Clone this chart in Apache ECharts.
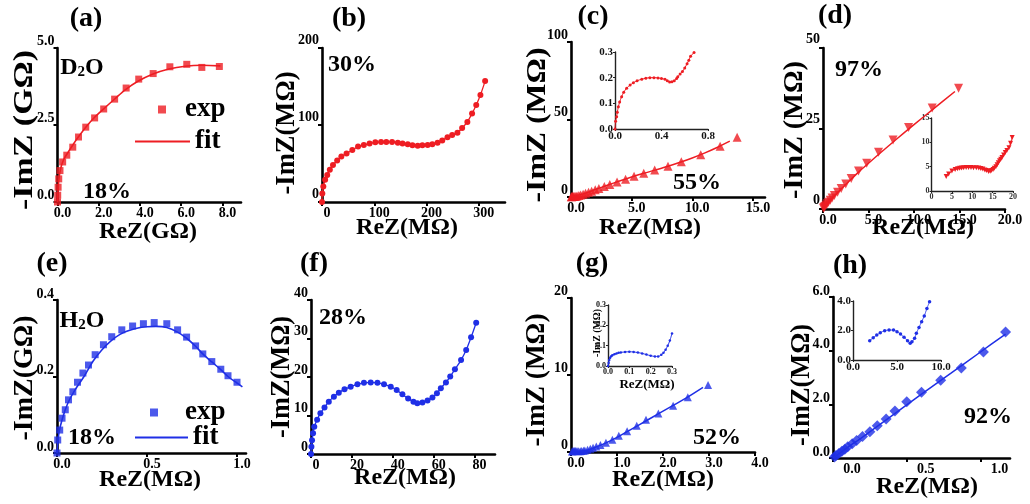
<!DOCTYPE html>
<html>
<head>
<meta charset="utf-8">
<script src="https://cdn.jsdelivr.net/npm/echarts@6/dist/echarts.min.js"></script>
<style>
  html, body { margin: 0; padding: 0; background: #fff; }
  #chart { width: 1030px; height: 504px; }
</style>
</head>
<body>
<div id="chart"></div>
<script>
// ---- Nyquist data (ReZ, -ImZ) ----
// (a) D2O 18%  [GΩ]
const aExp = [[0,0],[0.01,0.22],[0.03,0.48],[0.06,0.75],[0.12,1.02],[0.25,1.30],[0.45,1.52],[0.74,1.78],[1.02,2.11],[1.37,2.43],[1.80,2.73],[2.24,3.02],[2.77,3.34],[3.33,3.70],[3.94,3.99],[4.64,4.17],[5.45,4.39],[6.27,4.47],[7.0,4.37],[7.85,4.40]];
const aFit = [[0,0],[0.02,0.3],[0.06,0.7],[0.15,1.08],[0.3,1.38],[0.5,1.6],[0.75,1.86],[1.0,2.1],[1.4,2.45],[1.8,2.75],[2.3,3.06],[2.8,3.36],[3.3,3.65],[3.9,3.92],[4.6,4.15],[5.4,4.32],[6.2,4.41],[7.0,4.44],[7.9,4.42]];
// (b) D2O 30%  [MΩ]
const bExp = [[0,0],[0.6,11],[2.5,20],[6,29],[10,35],[15,42],[21,48],[29,54],[37,59],[47,63],[58,67.5],[69,72],[80,74],[91,76],[102,77.5],[113,78],[123,78],[134,78],[145,77],[154,76],[164,75],[173,73.6],[183,73],[192,73.6],[202,74],[211,75],[221,77],[230,80],[240,84],[249,87],[259,90],[268,96],[278,104],[287,115],[295,126],[303,139],[312,157]];
// (c) D2O 55%  [MΩ]
const cExp = [[0.02,0.1],[0.06,0.2],[0.1,0.25],[0.15,0.3],[0.2,0.3],[0.3,0.35],[0.4,0.45],[0.5,0.6],[0.65,0.9],[0.8,1.3],[1.0,1.8],[1.2,2.4],[1.45,3.0],[1.7,3.7],[2.0,4.6],[2.3,5.5],[2.75,6.7],[3.2,8.0],[3.8,9.7],[4.5,11.5],[5.2,13.4],[6.0,15.4],[6.9,17.4],[8.0,19.8],[9.1,22.8],[10.7,27.3],[12.3,32.8],[13.7,38.5]];
const cFit = [[0,0],[1,2],[2,4.8],[3,7.6],[4,10.3],[5,12.9],[6,15.3],[7,17.5],[8,19.8],[9,22.4],[10,25.2],[11,28.3],[12,31.8],[13.1,36]];
const cInset = [[0,0],[0.005,0.03],[0.014,0.048],[0.02,0.065],[0.029,0.087],[0.04,0.105],[0.057,0.126],[0.075,0.143],[0.1,0.159],[0.13,0.171],[0.158,0.18],[0.19,0.188],[0.23,0.194],[0.265,0.198],[0.3,0.2],[0.335,0.2],[0.37,0.199],[0.4,0.197],[0.43,0.194],[0.45,0.188],[0.47,0.183],[0.49,0.184],[0.51,0.188],[0.53,0.197],[0.54,0.204],[0.56,0.214],[0.58,0.224],[0.6,0.238],[0.62,0.254],[0.635,0.268],[0.65,0.283],[0.68,0.298]];
// (d) D2O 97%  [MΩ]
const dExp = [[0.05,0.2],[0.12,0.45],[0.2,0.75],[0.32,1.15],[0.45,1.6],[0.6,2.1],[0.8,2.7],[1.0,3.4],[1.25,4.2],[1.6,5.2],[2.0,6.4],[2.5,7.8],[3.1,9.5],[3.9,11.8],[4.8,14.2],[6.1,17.6],[7.7,21.4],[9.4,25.3],[12.0,31.4],[14.9,37.5]];
const dFit = [[0,0],[1,3.3],[2,6.2],[3,9],[4,11.7],[5,14.2],[6,16.7],[8,21.5],[10,26.2],[12,30.8],[14.5,36.5]];
const dInset = [[3.6,3.0],[4.2,3.5],[5.0,4.1],[5.8,4.4],[6.4,4.55],[6.9,4.65],[7.4,4.75],[7.9,4.8],[8.5,4.85],[9.1,4.85],[9.7,4.85],[10.3,4.8],[11.0,4.8],[11.6,4.75],[12.1,4.6],[12.6,4.5],[13.1,4.3],[13.5,4.2],[14.0,4.0],[14.4,4.05],[14.7,4.2],[15.1,4.4],[15.4,4.7],[15.8,5.0],[16.1,5.4],[16.4,5.8],[16.7,6.2],[17.0,6.5],[17.3,6.9],[17.7,7.4],[18.1,7.9],[18.5,8.3],[19.0,8.9],[19.4,9.8],[19.8,11.0]];
// (e) H2O 18%
const eExp = [[0,0],[0.004,0.034],[0.015,0.06],[0.028,0.091],[0.046,0.113],[0.064,0.139],[0.088,0.16],[0.114,0.185],[0.144,0.209],[0.175,0.23],[0.212,0.257],[0.258,0.283],[0.304,0.304],[0.36,0.322],[0.42,0.332],[0.48,0.338],[0.54,0.341],[0.61,0.338],[0.67,0.322],[0.72,0.303],[0.77,0.28],[0.81,0.259],[0.86,0.239],[0.91,0.219],[0.95,0.202],[1.0,0.185]];
const eFit = [[0,0],[0.01,0.05],[0.03,0.09],[0.06,0.13],[0.1,0.165],[0.15,0.2],[0.2,0.24],[0.25,0.27],[0.3,0.293],[0.35,0.31],[0.4,0.32],[0.45,0.327],[0.5,0.33],[0.55,0.331],[0.61,0.328],[0.67,0.316],[0.72,0.3],[0.77,0.279],[0.81,0.259],[0.86,0.238],[0.91,0.218],[0.95,0.2],[1.0,0.183],[1.03,0.173]];
// (f) H2O 28%
const fExp = [[0,0],[0.2,1.9],[0.5,3.6],[1.0,5.4],[1.6,7.1],[3.0,8.9],[4.6,10.6],[6.6,12.1],[8.7,13.6],[11.2,14.9],[13.6,15.9],[16.4,16.8],[19.4,17.5],[22.7,18.1],[25.9,18.5],[29.2,18.6],[32.5,18.5],[35.7,18.1],[39,17.5],[41.9,16.6],[44.7,15.5],[47.5,14.4],[50.1,13.6],[52,13.2],[54.5,13.4],[57,13.9],[59.4,14.7],[61.6,15.8],[63.5,17.1],[66,18.6],[68.1,20.1],[70.4,22],[73.4,24.4],[75.9,27],[78.3,30.3],[80.8,34.1]];
// (g) H2O 52%
const gExp = [[0.02,0.05],[0.04,0.1],[0.06,0.12],[0.08,0.12],[0.1,0.12],[0.13,0.12],[0.16,0.1],[0.2,0.1],[0.23,0.12],[0.27,0.16],[0.3,0.2],[0.36,0.3],[0.42,0.42],[0.48,0.55],[0.55,0.7],[0.64,0.9],[0.76,1.2],[0.9,1.6],[1.04,2.1],[1.22,2.7],[1.43,3.4],[1.63,4.2],[1.9,5.0],[2.22,6.0],[2.54,7.1],[2.98,8.7]];
const gFit = [[0,0],[0.3,0.15],[0.5,0.55],[0.75,1.15],[1.0,1.9],[1.25,2.75],[1.5,3.6],[1.75,4.45],[2.0,5.3],[2.25,6.15],[2.5,7.0],[2.87,8.4]];
const gInset = [[0,0],[0.003,0.015],[0.006,0.03],[0.01,0.04],[0.015,0.048],[0.02,0.053],[0.03,0.058],[0.04,0.062],[0.05,0.065],[0.06,0.067],[0.08,0.069],[0.1,0.07],[0.12,0.069],[0.14,0.066],[0.16,0.062],[0.18,0.056],[0.2,0.051],[0.22,0.047],[0.235,0.047],[0.25,0.055],[0.26,0.065],[0.27,0.08],[0.28,0.1],[0.29,0.125],[0.3,0.16]];
// (h) H2O 92%
const hExp = [[0.01,0.04],[0.02,0.09],[0.04,0.17],[0.06,0.25],[0.08,0.33],[0.1,0.42],[0.13,0.53],[0.16,0.65],[0.2,0.8],[0.25,0.98],[0.3,1.2],[0.36,1.45],[0.42,1.75],[0.5,2.1],[0.6,2.45],[0.73,2.9],[0.87,3.35],[1.02,3.95],[1.17,4.7]];
const hFit = [[0,0],[0.1,0.4],[0.2,0.78],[0.4,1.58],[0.6,2.38],[0.8,3.16],[1.0,3.95],[1.17,4.62]];
const hInset = [[1.9,1.31],[2.3,1.51],[2.7,1.69],[3.1,1.85],[3.6,1.99],[4.1,2.03],[4.6,2.03],[5.0,1.92],[5.4,1.76],[5.8,1.54],[6.2,1.31],[6.5,1.13],[6.7,1.24],[7.0,1.47],[7.2,1.81],[7.5,2.21],[7.8,2.6],[8.1,2.98],[8.4,3.5],[8.7,3.95]];

// ---- tick labels ----
const aTickX = ['0.0','2.0','4.0','6.0','8.0'], aTickY = ['0.0','2.5','5.0'];
const bTickX = ['0','100','200','300'], bTickY = ['0','100','200'];
const cTickX = ['0.0','5.0','10.0','15.0'], cTickY = ['0','50','100'];
const dTickX = ['0.0','5.0','10.0','15.0','20.0'], dTickY = ['0','25','50'];
const eTickX = ['0.0','0.5','1.0'], eTickY = ['0.0','0.2','0.4'];
const fTickX = ['0','20','40','60','80'], fTickY = ['0','10','20','30','40'];
const gTickX = ['0.0','1.0','2.0','3.0','4.0'], gTickY = ['0','10','20'];
const hTickX = ['0.0','0.5','1.0'], hTickY = ['0.0','2.0','4.0','6.0'];
const ciTickX = ['0.0','0.4','0.8'], ciTickY = ['0.0','0.1','0.2','0.3'];
const diTickX = ['0','5','10','15','20'], diTickY = ['0','5','10','15'];
const giTickX = ['0.0','0.1','0.2','0.3'], giTickY = ['0.0','0.1','0.2','0.3'];
const hiTickX = ['0.0','5.0','10.0'], hiTickY = ['0.0','2.0','4.0'];

const FONT = '"Liberation Serif", "Times New Roman", serif';
const RED = '#ee1d23', BLUE = '#1f2fe6';

const grids = [], xAxes = [], yAxes = [], series = [], graphic = [];

function tickSet(ticks) {
  const vals = ticks.map(Number);
  return { vals, fmt: v => { const k = vals.findIndex(t => Math.abs(t - v) < 1e-9); return k < 0 ? '' : ticks[k]; } };
}

// one cartesian panel: box = [left, top, width, height]
function panel(box, xr, yr, xt, yt, s) {
  const i = grids.length;
  grids.push({ left: box[0], top: box[1], width: box[2], height: box[3] });
  const X = tickSet(xt), Y = tickSet(yt);
  const common = {
    type: 'value', gridIndex: i, splitLine: { show: false },
    axisLine: { onZero: false, lineStyle: { color: s.color, width: s.lw } }
  };
  xAxes.push(Object.assign({}, common, {
    min: xr[0], max: xr[1],
    axisTick: { customValues: X.vals, length: s.tl, lineStyle: { color: s.color, width: s.tw } },
    axisLabel: { customValues: X.vals, formatter: X.fmt, fontFamily: FONT, fontWeight: 'bold',
      fontSize: s.fs, color: s.lc, margin: s.xm, padding: [0, 0, 0, 2 * s.xs] }
  }));
  const yLab = { customValues: Y.vals, formatter: Y.fmt, fontFamily: FONT, fontWeight: 'bold',
      fontSize: s.fs, color: s.lc, margin: s.ym };
  if (s.ys > 0) { yLab.verticalAlign = 'bottom'; yLab.lineHeight = 2 * s.ys; }
  yAxes.push(Object.assign({}, common, {
    min: yr[0], max: yr[1],
    axisTick: { customValues: Y.vals, length: s.tl, lineStyle: { color: s.color, width: s.tw } },
    axisLabel: yLab
  }));
  return i;
}

const MAIN = { color: '#000', lw: 2.6, tl: 4, tw: 2, fs: 14, lc: '#000', xm: 4, ym: 3, xs: 5, ys: 7 };
const INSET = { color: '#222', lw: 1.4, tl: 2, tw: 1, fs: 11, lc: '#111', xm: 2, ym: 2, xs: 0, ys: 0 };

function pts(name, gi, data, color, symbol, size, extra) {
  series.push(Object.assign({
    name, type: 'scatter', xAxisIndex: gi, yAxisIndex: gi, data, symbol, symbolSize: size,
    itemStyle: { color }, clip: false, z: 3
  }, extra || {}));
}
function curve(name, gi, data, color, width, extra) {
  series.push(Object.assign({
    name, type: 'line', xAxisIndex: gi, yAxisIndex: gi, data, symbol: 'none', smooth: 0.3,
    lineStyle: { color, width }, itemStyle: { color }, clip: false, z: 2
  }, extra || {}));
}

// (a)
const ga = panel([57.5, 48, 183.5, 154], [0, 8.9], [0, 5], aTickX, aTickY, MAIN);
pts('exp (a)', ga, aExp, RED, 'rect', 7);
curve('fit (a)', ga, aFit, RED, 1.6);
// (b)
const gb = panel([322, 48, 183, 154], [0, 350], [0, 200], bTickX, bTickY, Object.assign({}, MAIN, { ys: 8 }));
curve('b', gb, bExp, RED, 1.3, { symbol: 'circle', symbolSize: 6, showSymbol: true });
// (c)
const gc = panel([571, 42, 194, 155], [0, 16], [0, 100], cTickX, cTickY, MAIN);
pts('c', gc, cExp, RED, 'triangle', 9);
curve('c fit', gc, cFit, RED, 1.5);
const gci = panel([615, 52, 93, 77], [0, 0.8], [0, 0.3], ciTickX, ciTickY, INSET);
curve('c inset', gci, cInset, RED, 1, { symbol: 'circle', symbolSize: 3, showSymbol: true });
// (d)
const gd = panel([823, 48, 182, 161], [0, 20], [0, 50], dTickX, dTickY, Object.assign({}, MAIN, { ys: 9 }));
pts('d', gd, dExp, RED, 'triangle', 9, { symbolRotate: 180 });
curve('d fit', gd, dFit, RED, 1.5);
const gdi = panel([931.5, 118, 81.5, 73], [0, 20], [0, 15], diTickX, diTickY,
  Object.assign({}, INSET, { fs: 8, lc: '#333' }));
curve('d inset', gdi, dInset, RED, 1, { symbol: 'triangle', symbolRotate: 180, symbolSize: 5, showSymbol: true });
// (e)
const ge = panel([57, 300, 189, 153], [0, 1.05], [0, 0.4], eTickX, eTickY, Object.assign({}, MAIN, { ys: 6 }));
pts('exp (e)', ge, eExp, BLUE, 'rect', 7);
curve('fit (e)', ge, eFit, BLUE, 1.6);
// (f)
const gf = panel([311, 300, 184, 154], [0, 90], [0, 40], fTickX, fTickY, MAIN);
curve('f', gf, fExp, BLUE, 1.3, { symbol: 'circle', symbolSize: 6, showSymbol: true });
// (g)
const gg = panel([571, 298, 184, 154], [0, 4], [0, 20], gTickX, gTickY, MAIN);
pts('g', gg, gExp, BLUE, 'triangle', 8);
curve('g fit', gg, gFit, BLUE, 1.5);
const ggi = panel([608, 305, 64, 61], [0, 0.3], [0, 0.3], giTickX, giTickY,
  Object.assign({}, INSET, { fs: 8 }));
curve('g inset', ggi, gInset, BLUE, 1, { symbol: 'circle', symbolSize: 2.5, showSymbol: true });
// (h)
const gh = panel([833, 297, 177, 161], [0, 1.2], [0, 6], hTickX, hTickY,
  Object.assign({}, MAIN, { xs: 19, ys: 6 }));
pts('h', gh, hExp, BLUE, 'diamond', 11);
curve('h fit', gh, hFit, BLUE, 1.5);
const ghi = panel([853, 301, 88, 59], [0, 10], [0, 4], hiTickX, hiTickY, INSET);
curve('h inset', ghi, hInset, BLUE, 0.8, { symbol: 'circle', symbolSize: 3.5, showSymbol: true });

// ---- text ----
const measureCtx = document.createElement('canvas').getContext('2d');
function textW(t, size) { measureCtx.font = 'bold ' + size + 'px ' + FONT; return measureCtx.measureText(t).width; }
function label(t, x, y, size, extra) {
  graphic.push(Object.assign({
    type: 'text', x, y, silent: true,
    style: { text: t, x: 0, y: 0, align: 'center', verticalAlign: 'middle',
      fontFamily: FONT, fontWeight: 'bold', fontSize: size, fill: '#000' }
  }, extra || {}));
}
// vertical axis title stretched along its length
function vTitle(t, x, y, size, len) {
  label(t, x, y, size, { rotation: Math.PI / 2, scaleX: len / textW(t, size) });
}

const panelTags = [['(a)', 86, 19], ['(b)', 349, 19], ['(c)', 593, 17], ['(d)', 835, 16],
                   ['(e)', 52, 264], ['(f)', 314, 264], ['(g)', 592, 264], ['(h)', 850, 266]];
panelTags.forEach(p => label(p[0], p[1], p[2], 28));

const humid = [['18%', 107, 192], ['30%', 352, 65], ['55%', 697, 183], ['97%', 859, 70],
               ['18%', 92, 438], ['28%', 343, 318], ['52%', 717, 438], ['92%', 988, 417]];
humid.forEach(p => label(p[0], p[1], p[2], 24));

const xTitles = [['ReZ(GΩ)', 148, 232], ['ReZ(MΩ)', 407, 228], ['ReZ(MΩ)', 650, 228], ['ReZ(MΩ)', 923, 228],
                 ['ReZ(MΩ)', 150, 480], ['ReZ(MΩ)', 405, 478], ['ReZ(MΩ)', 663, 480], ['ReZ(MΩ)', 927, 487]];
xTitles.forEach(p => label(p[0], p[1], p[2], 24));

const yTitles = [['-ImZ (GΩ)', 25, 130, 160], ['-ImZ(MΩ)', 287, 133, 123], ['-ImZ (MΩ)', 538, 125, 155],
                 ['-ImZ (MΩ)', 795, 130, 138], ['-ImZ(GΩ)', 25, 378, 125], ['-ImZ(MΩ)', 282, 377, 122],
                 ['-ImZ (MΩ)', 537, 380, 133], ['-ImZ(MΩ)', 802, 385, 122]];
yTitles.forEach(p => vTitle(p[0], p[1], p[2], 27, p[3]));

// inset titles in (g)
vTitle('-ImZ (MΩ)', 597, 333, 10, 48);
label('ReZ(MΩ)', 647, 385, 13);

// solvent tags with subscript
function solvent(sym, x, y) {
  graphic.push({
    type: 'text', x, y, silent: true,
    style: { text: '{m|' + sym + '}{s|2}{m|O}', x: 0, y: 0, align: 'center', verticalAlign: 'middle',
      rich: {
        m: { fontFamily: FONT, fontWeight: 'bold', fontSize: 24, lineHeight: 28, verticalAlign: 'bottom', fill: '#000' },
        s: { fontFamily: FONT, fontWeight: 'bold', fontSize: 15, lineHeight: 15, verticalAlign: 'bottom', fill: '#000' }
      } }
  });
}
solvent('D', 82, 66);
solvent('H', 82, 319);

// ---- legends: square marker for exp, bare line for fit ----
const legTxt = { fontFamily: FONT, fontWeight: 'bold', fontSize: 27, color: '#000' };
function legendItem(name, left, top, iconW, iconH, textPad) {
  return {
    data: [{ name, icon: 'rect' }], left, top, itemWidth: iconW, itemHeight: iconH,
    padding: 0, selectedMode: false, formatter: n => n.split(' ')[0],
    textStyle: Object.assign({}, legTxt, { padding: [0, 0, 0, textPad] })
  };
}
const legends = [
  legendItem('exp (a)', 158, 96, 8, 8, 14),
  legendItem('fit (a)', 135, 128, 55, 2, 0),
  legendItem('exp (e)', 150, 399, 8, 8, 22),
  legendItem('fit (e)', 135, 424, 53, 2, 0)
];

const chart = echarts.init(document.getElementById('chart'), null, { renderer: 'canvas' });
chart.setOption({
  animation: false,
  backgroundColor: '#fff',
  grid: grids,
  xAxis: xAxes,
  yAxis: yAxes,
  legend: legends,
  series: series,
  graphic: graphic
});
</script>
</body>
</html>
